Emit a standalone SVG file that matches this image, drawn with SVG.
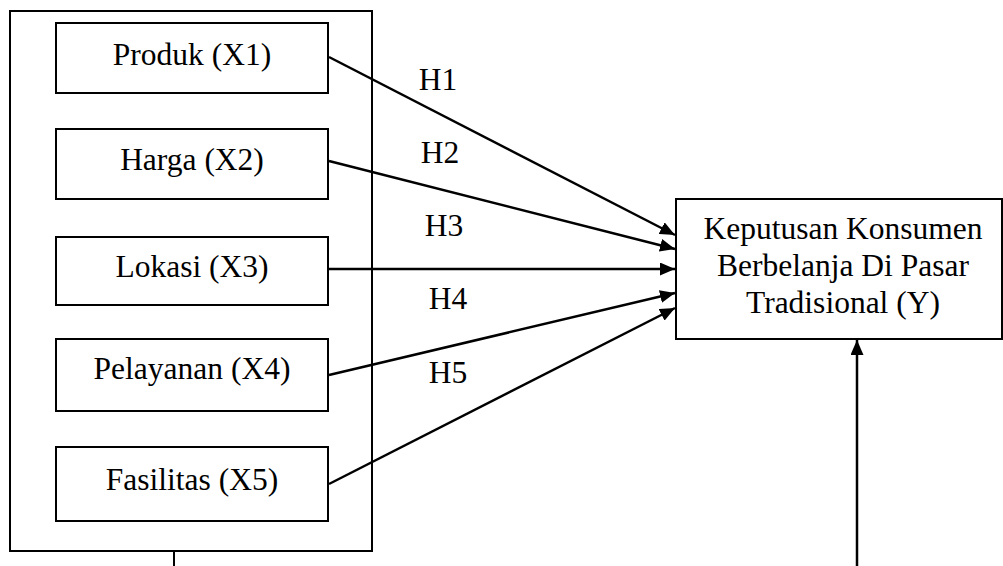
<svg xmlns="http://www.w3.org/2000/svg" width="1003" height="566" viewBox="0 0 1003 566">
  <style>
    .box { fill: #fff; stroke: #000; stroke-width: 2; }
    .frame { fill: none; stroke: #000; stroke-width: 2; }
    .lbl { font-family: "Liberation Serif", "Times New Roman", serif; font-size: 31.5px; fill: #000; text-anchor: middle; }
    .conn { fill: none; stroke: #000; stroke-width: 2.5; }
  </style>
  <defs>
    <marker id="arrow" viewBox="0 0 15 13" refX="15" refY="6.5" markerWidth="15" markerHeight="13" markerUnits="userSpaceOnUse" orient="auto">
      <path d="M0,0 L15,6.5 L0,13 Z" fill="#000"/>
    </marker>
  </defs>
  <rect width="1003" height="566" fill="#fff"/>

  <!-- group frame around the independent variables -->
  <g id="variabel-x">
    <rect class="frame" x="10" y="11" width="362" height="540"/>
  </g>

  <g id="x1">
    <rect class="box" x="56" y="23" width="272" height="70"/>
    <text class="lbl" x="192" y="65">Produk (X1)</text>
  </g>
  <g id="x2">
    <rect class="box" x="56" y="129" width="272" height="70"/>
    <text class="lbl" x="192" y="170">Harga (X2)</text>
  </g>
  <g id="x3">
    <rect class="box" x="56" y="237" width="272" height="68"/>
    <text class="lbl" x="192" y="277">Lokasi (X3)</text>
  </g>
  <g id="x4">
    <rect class="box" x="56" y="339" width="272" height="72"/>
    <text class="lbl" x="192" y="379">Pelayanan (X4)</text>
  </g>
  <g id="x5">
    <rect class="box" x="56" y="447" width="272" height="74"/>
    <text class="lbl" x="192" y="490">Fasilitas (X5)</text>
  </g>

  <g id="y">
    <rect class="box" x="676" y="199" width="326" height="140"/>
    <text class="lbl" x="843" y="239">Keputusan Konsumen</text>
    <text class="lbl" x="843" y="276">Berbelanja Di Pasar</text>
    <text class="lbl" x="843" y="313">Tradisional (Y)</text>
  </g>

  <g id="connectors">
    <line class="conn" x1="329" y1="57" x2="675" y2="235" marker-end="url(#arrow)"/>
    <line class="conn" x1="329" y1="161" x2="675" y2="249" marker-end="url(#arrow)"/>
    <line class="conn" x1="329" y1="269" x2="675" y2="269" marker-end="url(#arrow)"/>
    <line class="conn" x1="329" y1="375" x2="675" y2="293" marker-end="url(#arrow)"/>
    <line class="conn" x1="329" y1="484" x2="675" y2="308" marker-end="url(#arrow)"/>
    <line x1="174" y1="551" x2="174" y2="566" stroke="#000" stroke-width="2"/>
    <line class="conn" x1="857" y1="566" x2="857" y2="340" marker-end="url(#arrow)"/>
  </g>

  <g id="labels">
    <text class="lbl" x="438" y="90">H1</text>
    <text class="lbl" x="440" y="163">H2</text>
    <text class="lbl" x="444" y="236">H3</text>
    <text class="lbl" x="448" y="309">H4</text>
    <text class="lbl" x="448" y="383">H5</text>
  </g>
</svg>
